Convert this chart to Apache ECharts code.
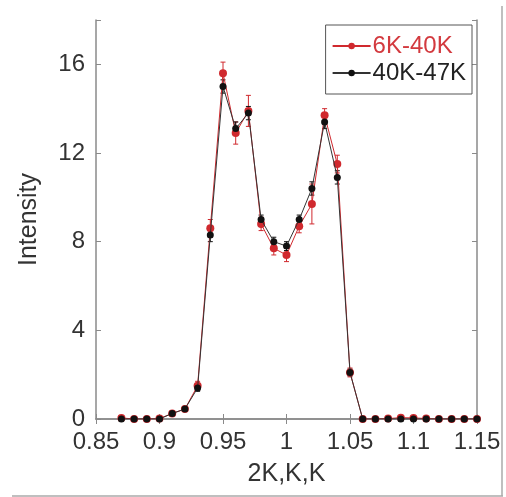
<!DOCTYPE html>
<html>
<head>
<meta charset="utf-8">
<script src="https://cdn.jsdelivr.net/npm/echarts@6/dist/echarts.min.js"></script>
<style>
  html, body { margin: 0; padding: 0; background: #fff; }
  #chart { width: 506px; height: 497px; }
</style>
</head>
<body>
<div id="chart"></div>
<script>
// Q values along (2K,K,K)
const kValues = [0.87, 0.88, 0.89, 0.90, 0.91, 0.92, 0.93, 0.94, 0.95, 0.96,
                 0.97, 0.98, 0.99, 1.00, 1.01, 1.02, 1.03, 1.04, 1.05, 1.06,
                 1.07, 1.08, 1.09, 1.10, 1.11, 1.12, 1.13, 1.14, 1.15];

// 6K-40K (red)
const redValues = [0.05, 0.0, 0.0, 0.02, 0.25, 0.45, 1.5, 8.6, 15.6, 12.9,
                   13.9, 8.8, 7.7, 7.4, 8.7, 9.7, 13.7, 11.5, 2.1, 0.0,
                   0.0, 0.02, 0.06, 0.05, 0.02, 0.0, 0.0, 0.0, 0.0];
const redErrors = [0.1, 0.1, 0.1, 0.1, 0.1, 0.1, 0.2, 0.4, 0.5, 0.5,
                   0.7, 0.3, 0.3, 0.3, 0.3, 0.9, 0.3, 0.4, 0.2, 0.1,
                   0.1, 0.1, 0.1, 0.1, 0.1, 0.1, 0.1, 0.1, 0.1];

// 40K-47K (black)
const blackValues = [0.0, 0.0, 0.0, 0.0, 0.25, 0.45, 1.4, 8.3, 15.0, 13.1,
                     13.8, 9.0, 8.0, 7.8, 9.0, 10.4, 13.4, 10.9, 2.1, 0.0,
                     0.0, 0.0, 0.0, 0.0, 0.0, 0.0, 0.0, 0.0, 0.0];
const blackErrors = [0.1, 0.1, 0.1, 0.1, 0.1, 0.1, 0.15, 0.3, 0.3, 0.3,
                     0.3, 0.2, 0.2, 0.2, 0.2, 0.3, 0.3, 0.3, 0.15, 0.1,
                     0.1, 0.1, 0.1, 0.1, 0.1, 0.1, 0.1, 0.1, 0.1];

const yTicks = [0, 4, 8, 12, 16];

const chart = echarts.init(document.getElementById('chart'));

function pairs(vals) {
    return kValues.map((k, i) => [k, vals[i]]);
}

function errorData(vals, errs) {
    return kValues.map((k, i) => [k, vals[i] - errs[i], vals[i] + errs[i]]);
}

function errorBarSeries(name, vals, errs, color) {
    return {
        name: name,
        type: 'custom',
        silent: true,
        z: 1,
        data: errorData(vals, errs),
        renderItem: function(params, api) {
            const lo = api.coord([api.value(0), api.value(1)]);
            const hi = api.coord([api.value(0), api.value(2)]);
            const w = 2.5;
            const style = { stroke: color, lineWidth: 1 };
            return {
                type: 'group',
                children: [
                    { type: 'line', shape: { x1: lo[0], y1: lo[1], x2: hi[0], y2: hi[1] }, style: style },
                    { type: 'line', shape: { x1: lo[0] - w, y1: lo[1], x2: lo[0] + w, y2: lo[1] }, style: style },
                    { type: 'line', shape: { x1: hi[0] - w, y1: hi[1], x2: hi[0] + w, y2: hi[1] }, style: style }
                ]
            };
        }
    };
}

const axisGray = '#8a8a8a';
const fontName = 'Liberation Sans, Arial, sans-serif';
const tickFont = { color: '#333', fontSize: 24, fontFamily: fontName };
const nameFont = { color: '#333', fontSize: 25, fontFamily: fontName };

const option = {
    backgroundColor: '#ffffff',
    animation: false,
    grid: { left: 96, top: 20, right: 29, bottom: 78 },
    legend: {
        show: true,
        right: 34,
        top: 25,
        orient: 'vertical',
        itemGap: 3,
        itemWidth: 38,
        itemHeight: 8,
        padding: [9, 6, 9, 6],
        borderColor: '#555',
        borderWidth: 1,
        backgroundColor: '#fff',
        data: [
            { name: '6K-40K', textStyle: { color: '#d33a3f' } },
            { name: '40K-47K', textStyle: { color: '#222' } }
        ],
        textStyle: { fontSize: 24, fontFamily: fontName, padding: [0, 0, 0, -3] }
    },
    xAxis: [{
        type: 'value',
        min: 0.85,
        max: 1.15,
        interval: 0.05,
        name: '2K,K,K',
        nameLocation: 'middle',
        nameGap: 43,
        nameTextStyle: nameFont,
        axisLine: { show: true, lineStyle: { color: axisGray, width: 1.5 } },
        axisTick: { inside: true, length: 5, lineStyle: { color: axisGray } },
        axisLabel: Object.assign({ margin: 11, formatter: v => String(+v.toFixed(2)) }, tickFont),
        splitLine: { show: false }
    }, {
        type: 'value',
        position: 'top',
        min: 0.85,
        max: 1.15,
        interval: 0.05,
        axisLine: { show: true, lineStyle: { color: axisGray, width: 1.5 } },
        axisTick: { inside: true, length: 5, lineStyle: { color: axisGray } },
        axisLabel: { show: false },
        splitLine: { show: false }
    }],
    yAxis: [{
        type: 'value',
        min: 0,
        max: 18,
        interval: 4,
        name: 'Intensity',
        nameLocation: 'middle',
        nameGap: 54,
        nameTextStyle: nameFont,
        axisLine: { show: true, lineStyle: { color: axisGray, width: 1.5 } },
        axisTick: { inside: true, length: 5, lineStyle: { color: axisGray } },
        axisLabel: Object.assign({
            margin: 11,
            formatter: v => (yTicks.indexOf(v) >= 0 ? String(v) : '')
        }, tickFont),
        splitLine: { show: false }
    }, {
        type: 'value',
        position: 'right',
        min: 0,
        max: 18,
        interval: 4,
        axisLine: { show: true, lineStyle: { color: axisGray, width: 1.5 } },
        axisTick: { inside: true, length: 5, lineStyle: { color: axisGray } },
        axisLabel: { show: false },
        splitLine: { show: false }
    }],
    series: [
        errorBarSeries('6K-40K err', redValues, redErrors, '#d0292e'),
        {
            name: '6K-40K',
            type: 'line',
            z: 2,
            data: pairs(redValues),
            symbol: 'circle',
            symbolSize: 8,
            itemStyle: { color: '#d0292e' },
            lineStyle: { color: '#d0292e', width: 1 }
        },
        errorBarSeries('40K-47K err', blackValues, blackErrors, '#111'),
        {
            name: '40K-47K',
            type: 'line',
            z: 3,
            data: pairs(blackValues),
            symbol: 'circle',
            symbolSize: 7,
            itemStyle: { color: '#111' },
            lineStyle: { color: '#333', width: 1 }
        }
    ],
    graphic: [
        { type: 'line', shape: { x1: 12, y1: 496, x2: 503, y2: 496 }, style: { stroke: '#aaa', lineWidth: 1.5 } },
        { type: 'line', shape: { x1: 502, y1: 6, x2: 502, y2: 496 }, style: { stroke: '#aaa', lineWidth: 1.5 } }
    ]
};

chart.setOption(option);
</script>
</body>
</html>
